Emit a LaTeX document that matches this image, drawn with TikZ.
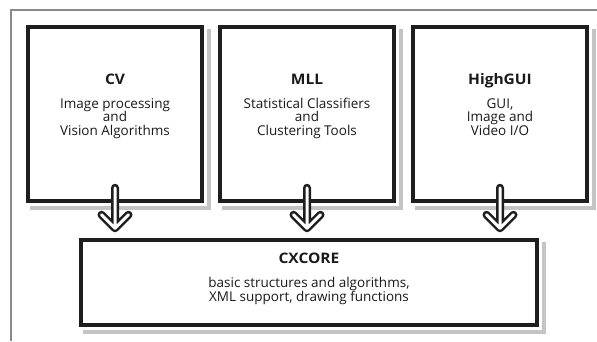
\documentclass[tikz,border=0pt]{standalone}
\usepackage{fontspec}
\setmainfont{Open Sans}
\newfontfamily\titlefont[FakeStretch=1.07]{Open Sans}
\usetikzlibrary{calc}
\definecolor{boxline}{HTML}{1E1E1E}
\definecolor{shadowgray}{HTML}{C4C4C4}
\definecolor{framecol}{HTML}{8A8A8A}
\definecolor{textcol}{HTML}{1A1A1A}
\begin{document}
\begin{tikzpicture}[x=1pt,y=-1pt,
  box/.style={draw=boxline, line width=3.5pt, fill=white, rectangle, inner sep=0pt},
  shadowline/.style={draw=shadowgray, line width=4pt},
  titletext/.style={font=\titlefont\bfseries\fontsize{14.5}{16}\selectfont, inner sep=0pt, anchor=base, text=textcol},
  bodytext/.style={font=\fontsize{13.5}{13.5}\selectfont, align=center, inner sep=0pt, anchor=north, text=textcol},
  arrowout/.style={draw=boxline, line width=8pt, line cap=round, line join=round},
  arrowin/.style={draw=white, line width=3pt, line cap=round, line join=round}]
\useasboundingbox (0,0) rectangle (597,341);
\fill[white] (0,0) rectangle (597,341);
% frame
\draw[framecol, line width=1.2pt] (597,10) -- (11,10) -- (11,341);

% boxes
\node[box, minimum width=174pt, minimum height=174pt] (cv) at (115,114) {};
\node[box, minimum width=174pt, minimum height=174pt] (mll) at (307,114) {};
\node[box, minimum width=174pt, minimum height=174pt] (gui) at (500,114) {};
\node[box, minimum width=456pt, minimum height=85pt] (cx) at (309,282.5) {};

% shadows
\foreach \b in {cv,mll,gui,cx}{
  \draw[shadowline] ($(\b.north east)+(5.5,4)$) -- ($(\b.south east)+(5.5,5.5)$) -- ($(\b.south west)+(4,5.5)$);
}

% texts
\node[titletext] (cvt) at (115,84) {CV};
\node[bodytext] (cvb) at (115,97) {\rule{0pt}{11pt}Image processing\\and\\Vision Algorithms};
\node[titletext] (mllt) at (307,84) {MLL};
\node[bodytext] (mllb) at (307,97) {\rule{0pt}{11pt}Statistical Classifiers\\and\\Clustering Tools};
\node[titletext] (guit) at (500,84) {HighGUI};
\node[bodytext] (guib) at (500,97) {\rule{0pt}{11pt}GUI,\\Image and\\Video I/O};
\node[titletext] (cxt) at (309,263) {CXCORE};
\node[bodytext] (cxb) at (309,276) {\rule{0pt}{11pt}basic structures and algorithms,\\XML support, drawing functions};

% arrows
\foreach \b in {cv,mll,gui}{
  \coordinate (\b s) at ($(\b.south)+(0,-15)$);
  \coordinate (\b t) at ($(\b.south |- cx.north)+(0,-10)$);
  \draw[arrowout] (\b s) -- (\b t) ($(\b t)+(-13.5,-13.5)$) -- (\b t) -- ($(\b t)+(13.5,-13.5)$);
  \draw[arrowin] (\b s) -- (\b t) ($(\b t)+(-13.5,-13.5)$) -- (\b t) -- ($(\b t)+(13.5,-13.5)$);
}
\end{tikzpicture}
\end{document}
